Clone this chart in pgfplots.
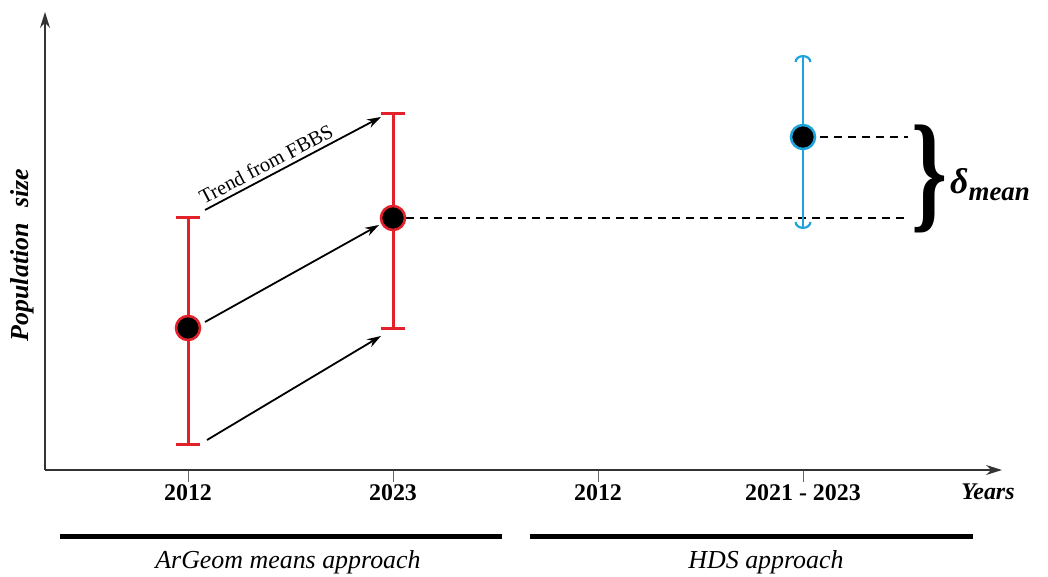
\documentclass[border=0pt]{standalone}
\usepackage{pgfplots}
\pgfplotsset{compat=1.18}
\usepackage{fontspec}
\setmainfont{Liberation Serif}
\usetikzlibrary{arrows.meta}
\definecolor{myred}{HTML}{E3212B}
\definecolor{myblue}{HTML}{1FA3DC}
\begin{document}
\begin{tikzpicture}
\begin{axis}[
  x=1bp, y=1bp,
  xmin=45, xmax=1002, ymin=107, ymax=565,
  axis lines=left,
  axis line style={line width=1.3bp, black!80, -{Stealth[length=16bp,width=10bp]}},
  clip=false,
  xtick={188,393,598,803},
  xticklabels={2012,2023,2012,2021 - 2023},
  ytick=\empty,
  tick align=outside,
  major tick length=12bp,
  tick style={line width=0.7bp, black!60},
  xticklabel style={font=\fontsize{24}{28}\selectfont\bfseries, inner sep=0pt, anchor=north, yshift=-2bp},
]
% dashed reference lines
\addplot[black, line width=1.2bp, dash pattern=on 8bp off 6bp] coordinates {(406,359) (908,359)};
\addplot[black, line width=1.2bp, dash pattern=on 8bp off 6bp] coordinates {(820,440) (908,440)};
% red intervals (2012: 131-361, 2023: 247-465)
\addplot[myred, line width=3bp, {Bar[width=24bp]}-{Bar[width=24bp]}] coordinates {(188,131) (188,361)};
\addplot[myred, line width=3bp, {Bar[width=24bp]}-{Bar[width=24bp]}] coordinates {(393,247) (393,465)};
% blue interval
\addplot[myblue, line width=2.2bp, {Arc Barb[length=7bp,width=17bp]}-{Arc Barb[length=7bp,width=17bp]}]
  coordinates {(803,348) (803,522)};
% trend arrows
\addplot[black, line width=1.8bp, -{Stealth[length=14bp,width=9bp]}] coordinates {(205,367) (381,460)};
\addplot[black, line width=1.8bp, -{Stealth[length=14bp,width=9bp]}] coordinates {(205,255) (379,352)};
\addplot[black, line width=1.8bp, -{Stealth[length=14bp,width=9bp]}] coordinates {(207,137) (381,241)};
% markers
\addplot[only marks, mark=*, mark size=12bp, mark options={fill=black, draw=myred, line width=2.6bp}]
  coordinates {(188,249) (393,359)};
\addplot[only marks, mark=*, mark size=12bp, mark options={fill=black, draw=myblue, line width=2.6bp}]
  coordinates {(803,440)};
% annotations
\node[rotate=27.7, font=\fontsize{20.5}{22}\selectfont] at (axis cs:266,413) {Trend from FBBS};
\node[inner sep=0pt] at (axis cs:930,398) {\resizebox*{36bp}{108bp}{\bfseries\}}};
\node[anchor=west, inner sep=0pt] at (axis cs:950,392) {\fontsize{36}{36}\selectfont\bfseries\itshape δ\raisebox{-7bp}{\fontsize{27}{27}\selectfont mean}};
\node[font=\fontsize{24}{28}\selectfont\bfseries\itshape] at (axis cs:988,85) {Years};
\node[rotate=90, font=\fontsize{26}{28}\selectfont\bfseries\itshape] at (axis cs:22,322) {Population\hspace{0.35em} size};
\draw[line width=5bp] (axis cs:60,40) -- (axis cs:502,40);
\draw[line width=5bp] (axis cs:530,40) -- (axis cs:973,40);
\node[font=\fontsize{26}{28}\selectfont\itshape] at (axis cs:288,15) {ArGeom means approach};
\node[font=\fontsize{26}{28}\selectfont\itshape] at (axis cs:766,15) {HDS approach};
\coordinate (bl) at (axis cs:0,0);
\coordinate (tr) at (axis cs:1048,577);
\end{axis}
\pgfresetboundingbox
\useasboundingbox (bl) rectangle (tr);
\end{tikzpicture}
\end{document}
